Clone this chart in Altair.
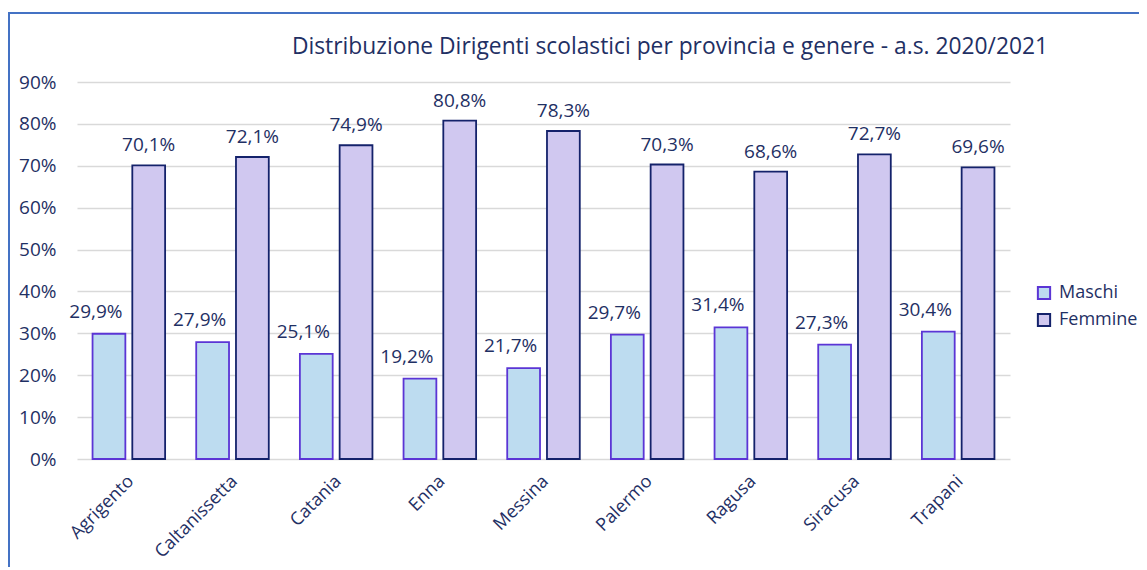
import altair as alt
import pandas as pd

province = ["Agrigento", "Caltanissetta", "Catania", "Enna", "Messina",
            "Palermo", "Ragusa", "Siracusa", "Trapani"]
maschi = [29.9, 27.9, 25.1, 19.2, 21.7, 29.7, 31.4, 27.3, 30.4]
femmine = [70.1, 72.1, 74.9, 80.8, 78.3, 70.3, 68.6, 72.7, 69.6]
generi = ["Maschi", "Femmine"]
fills = ["#BDDCF0", "#D0C8F0"]
strokes = ["#5B35D5", "#14226B"]
title_text = "Distribuzione Dirigenti scolastici per provincia e genere - a.s. 2020/2021"

rows = []
for p, m, f in zip(province, maschi, femmine):
    rows.append({"Provincia": p, "Genere": "Maschi", "Valore": m})
    rows.append({"Provincia": p, "Genere": "Femmine", "Valore": f})
df = pd.DataFrame(rows)

TXT = "#1F3064"
FONT = "Open Sans"

x_enc = alt.X("Provincia:N", sort=province,
              scale=alt.Scale(paddingInner=0.3, paddingOuter=0.15),
              axis=alt.Axis(title=None, labelAngle=-45, labelAlign="right",
                            labelBaseline="top", labelFontSize=18,
                            labelColor=TXT, labelFont=FONT, ticks=False,
                            domain=False, labelPadding=13, labelOffset=-4))
xo_enc = alt.XOffset("Genere:N", sort=generi,
                     scale=alt.Scale(paddingInner=0.175, paddingOuter=0))
y_enc = alt.Y("Valore:Q",
              scale=alt.Scale(domain=[0, 90], nice=False),
              axis=alt.Axis(title=None, values=list(range(0, 91, 10)),
                            labelExpr="datum.value + '%'",
                            labelFontSize=19, labelColor=TXT, labelFont=FONT,
                            labelPadding=21, ticks=False, domain=False,
                            gridColor="#D9D9D9", gridWidth=1.5))

legend = alt.Legend(title=None, orient="none", legendX=958, legendY=202,
                    symbolType="square", symbolSize=150, labelFontSize=18,
                    labelColor=TXT, labelFont=FONT, rowPadding=5,
                    symbolStrokeWidth=2, labelOffset=6)

base = alt.Chart(df)

bars = base.mark_bar(strokeWidth=1.8).encode(
    x=x_enc,
    xOffset=xo_enc,
    y=y_enc,
    fill=alt.Fill("Genere:N", sort=generi,
                  scale=alt.Scale(domain=generi, range=fills), legend=legend),
    stroke=alt.Stroke("Genere:N", sort=generi,
                      scale=alt.Scale(domain=generi, range=strokes), legend=legend),
)


def label_layer(genere, dx, dy):
    return base.transform_filter(
        alt.datum.Genere == genere
    ).transform_calculate(
        lbl="replace(format(datum.Valore, '.1f'), '.', ',') + '%'"
    ).mark_text(baseline="bottom", dy=dy, dx=dx, fontSize=19,
                color=TXT, font=FONT).encode(
        x=alt.X("Provincia:N", sort=province),
        xOffset=alt.XOffset("Genere:N", sort=generi),
        y="Valore:Q",
        text="lbl:N",
    )


labels_m = label_layer("Maschi", -13, -12)
labels_f = label_layer("Femmine", 0, -10)

one = pd.DataFrame({"k": [0]})
frame_top = alt.Chart(one).mark_rule(color="#4472C4", strokeWidth=2).encode(
    x=alt.value(-69), x2=alt.value(1070), y=alt.value(-69))
frame_left = alt.Chart(one).mark_rule(color="#4472C4", strokeWidth=2).encode(
    x=alt.value(-68), y=alt.value(-70), y2=alt.value(500))
title = alt.Chart(one).mark_text(fontSize=22.8, font=FONT, color=TXT,
                                 baseline="middle", align="center").encode(
    x=alt.value(593), y=alt.value(-35), text=alt.value(title_text))

chart = alt.layer(bars, labels_m, labels_f, frame_top, frame_left, title).properties(
    width=933, height=377,
    padding={"left": 69, "top": 74, "right": 129, "bottom": 108},
    autosize=alt.AutoSizeParams(type="none"),
).configure_view(stroke=None)

chart.save("out.html", embed_options={"renderer": "svg", "actions": False})
